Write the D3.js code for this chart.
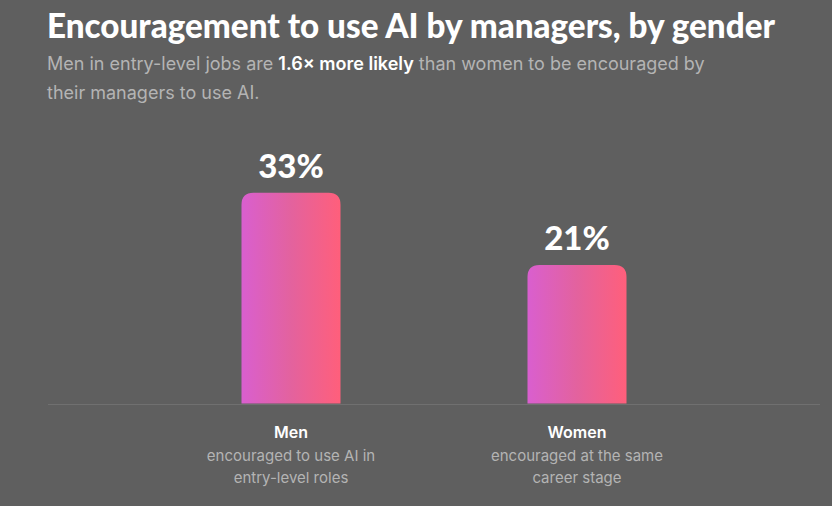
<!DOCTYPE html>
<html>
<head>
<meta charset="utf-8">
<script src="https://cdn.jsdelivr.net/npm/d3@7"></script>
<style>
  html, body { margin: 0; padding: 0; background: #5f5f5f; }
  svg { display: block; }
</style>
</head>
<body>
<div id="chart"></div>
<script>
const categories = ['Men', 'Women']
const values = [33, 21]
const valueLabels = ['33%', '21%']
const descriptions = [
  ['encouraged to use AI in', 'entry-level roles'],
  ['encouraged at the same', 'career stage']
]
const title = 'Encouragement to use AI by managers, by gender'
const subtitle = [
  [{ t: 'Men in entry-level jobs are ' }, { t: '1.6× more likely', b: true }, { t: ' than women to be encouraged by' }],
  [{ t: 'their managers to use AI.' }]
]

const width = 832
const height = 506
const baseline = 403.5
const barWidth = 99
const foot = 12 // bars keep a small foot under the rounded top

const svg = d3.select('#chart').append('svg')
  .attr('width', width)
  .attr('height', height)

svg.append('rect')
  .attr('width', width)
  .attr('height', height)
  .attr('fill', '#5f5f5f')

const defs = svg.append('defs')
const grad = defs.append('linearGradient')
  .attr('id', 'barGrad')
  .attr('x1', '0%').attr('x2', '100%')
  .attr('y1', '0%').attr('y2', '0%')
grad.append('stop').attr('offset', '0%').attr('stop-color', '#d95fcf')
grad.append('stop').attr('offset', '50%').attr('stop-color', '#e3629e')
grad.append('stop').attr('offset', '100%').attr('stop-color', '#ff5f7b')

const x = d3.scalePoint()
  .domain(categories)
  .range([291, 577])

const y = d3.scaleLinear()
  .domain([0, d3.max(values)])
  .range([baseline - foot, 192.7])

// title + subtitle
svg.append('text')
  .attr('x', 47)
  .attr('y', 38)
  .attr('fill', '#ffffff')
  .attr('font-family', 'Lato, sans-serif')
  .attr('font-weight', 900)
  .attr('font-size', 34)
  .attr('textLength', 728)
  .attr('lengthAdjust', 'spacingAndGlyphs')
  .text(title)

const sub = svg.append('g')
subtitle.forEach((line, i) => {
  const t = sub.append('text')
    .attr('x', 47)
    .attr('y', 70 + i * 29)
    .attr('font-family', 'Inter, sans-serif')
    .attr('font-size', 18)
    .attr('fill', '#b4b4b4')
  line.forEach(part => {
    t.append('tspan')
      .attr('fill', part.b ? '#ffffff' : '#b4b4b4')
      .attr('font-weight', part.b ? 600 : 400)
      .text(part.t)
  })
})

// baseline
svg.append('line')
  .attr('x1', 48).attr('x2', 820)
  .attr('y1', baseline + 1).attr('y2', baseline + 1)
  .attr('stroke', '#707070')
  .attr('stroke-width', 1)

const data = categories.map((c, i) => ({ c, v: values[i], label: valueLabels[i], desc: descriptions[i] }))

const bars = svg.append('g')
  .selectAll('g')
  .data(data).enter()
  .append('g')

// rounded top, square bottom
bars.append('path')
  .attr('fill', 'url(#barGrad)')
  .attr('d', d => {
    const x0 = x(d.c) - barWidth / 2
    const x1 = x(d.c) + barWidth / 2
    const top = y(d.v)
    const r = 12
    return `M${x0},${baseline}V${top + r}Q${x0},${top} ${x0 + r},${top}H${x1 - r}Q${x1},${top} ${x1},${top + r}V${baseline}Z`
  })

bars.append('text')
  .attr('x', d => x(d.c))
  .attr('y', d => y(d.v) - 15)
  .attr('text-anchor', 'middle')
  .attr('fill', '#ffffff')
  .attr('font-family', 'Lato, sans-serif')
  .attr('font-weight', 900)
  .attr('font-size', 33)
  .text(d => d.label)

bars.append('text')
  .attr('x', d => x(d.c))
  .attr('y', 438)
  .attr('text-anchor', 'middle')
  .attr('fill', '#ffffff')
  .attr('font-family', 'Inter, sans-serif')
  .attr('font-weight', 600)
  .attr('font-size', 16)
  .text(d => d.c)

bars.each(function (d) {
  d3.select(this).selectAll('text.desc')
    .data(d.desc).enter()
    .append('text')
    .attr('class', 'desc')
    .attr('x', x(d.c))
    .attr('y', (s, i) => 461 + i * 22)
    .attr('text-anchor', 'middle')
    .attr('fill', '#b4b4b4')
    .attr('font-family', 'Inter, sans-serif')
    .attr('font-size', 15)
    .text(s => s)
})
</script>
</body>
</html>
